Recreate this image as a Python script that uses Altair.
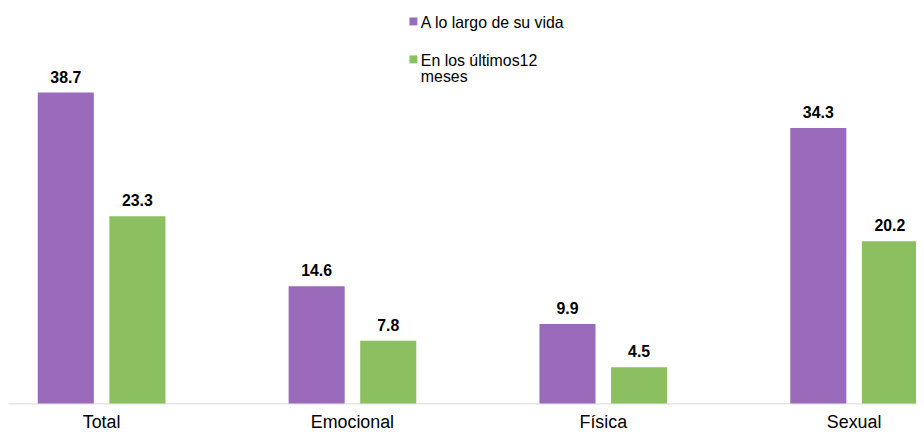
import altair as alt
import pandas as pd

categorias = ["Total", "Emocional", "Física", "Sexual"]
series = ["A lo largo de su vida", "En los últimos12 meses"]
vida = [38.7, 14.6, 9.9, 34.3]
ultimos = [23.3, 7.8, 4.5, 20.2]
colores = ["#9A6BBA", "#8BBF60"]

rows = []
for c, v, u in zip(categorias, vida, ultimos):
    rows.append({"cat": c, "serie": series[0], "valor": v})
    rows.append({"cat": c, "serie": series[1], "valor": u})
df = pd.DataFrame(rows)

FONT = "Liberation Sans"

x = alt.X(
    "cat:N",
    sort=categorias,
    title=None,
    scale=alt.Scale(range=[0, 948], paddingInner=0.491, paddingOuter=0.1187),
    axis=alt.Axis(
        labelAngle=0, ticks=False, domainColor="#D9D9D9", domainWidth=1,
        labelFont=FONT, labelFontSize=18, labelColor="#000000", labelPadding=10,
        grid=False,
    ),
)
xo = alt.XOffset("serie:N", sort=series,
                 scale=alt.Scale(paddingInner=0.217, paddingOuter=0))
y = alt.Y("valor:Q", scale=alt.Scale(domain=[0, 49]), axis=None)

base = alt.Chart(df).encode(x=x, xOffset=xo, y=y)

bars = base.mark_bar().encode(
    color=alt.Color("serie:N", sort=series,
                    scale=alt.Scale(domain=series, range=colores), legend=None)
)
labels = base.mark_text(
    baseline="alphabetic", dy=-10, font=FONT, fontSize=16, fontWeight="bold",
    color="#000000",
).encode(text=alt.Text("valor:Q", format=".1f"))

one = pd.DataFrame({"k": [0]})
sq1 = alt.Chart(one).mark_square(size=64, color=colores[0], opacity=1).encode(
    x=alt.value(409), y=alt.value(11.7))
tx1 = alt.Chart(one).mark_text(align="left", baseline="alphabetic", font=FONT,
                               fontSize=16, color="#000000").encode(
    x=alt.value(416.5), y=alt.value(18.7), text=alt.value(series[0]))
sq2 = alt.Chart(one).mark_square(size=64, color=colores[1], opacity=1).encode(
    x=alt.value(409), y=alt.value(50))
tx2 = alt.Chart(one).mark_text(align="left", baseline="alphabetic", font=FONT,
                               fontSize=16, lineHeight=16, color="#000000").encode(
    x=alt.value(416.5), y=alt.value(57), text=alt.value(["En los últimos12", "meses"]))

chart = alt.layer(bars, labels, sq1, tx1, sq2, tx2).properties(
    width=916, height=397,
    autosize=alt.AutoSizeParams(type="none"),
    padding={"left": 0, "top": 0, "right": 0, "bottom": 28},
).configure_view(stroke=None)

chart.save("out.html", embed_options={"renderer": "svg", "actions": False})
